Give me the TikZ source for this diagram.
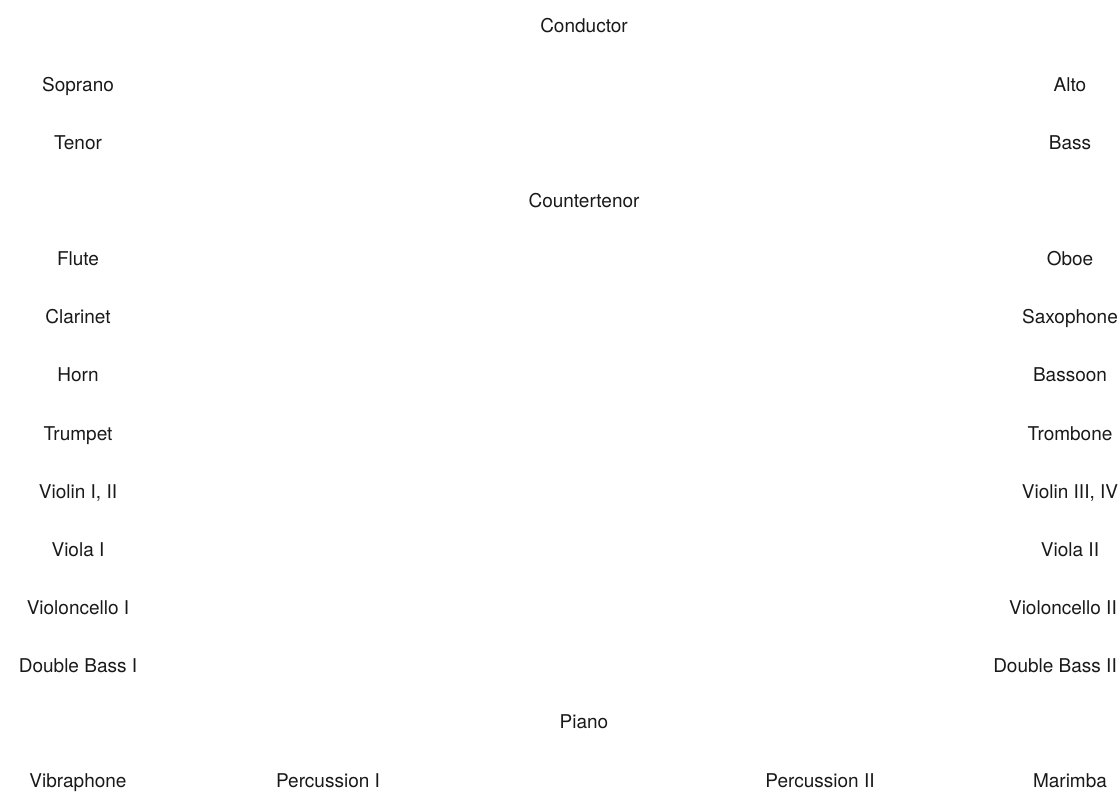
\documentclass[tikz,border=0pt]{standalone}
\usepackage{fontspec}
\setmainfont{TeX Gyre Heros}
\begin{document}
\begin{tikzpicture}[x=1pt,y=-1pt,
  lbl/.style={inner sep=0pt, text=black!90, font=\fontsize{19}{22}\selectfont, anchor=base},
  rlbl/.style={lbl, anchor=base east}]
\useasboundingbox (0,0) rectangle (1120,802);
\def\L{78}\def\R{1070}\def\C{584}\def\E{1117}
\node[lbl] (conductor) at (\C,33) {Conductor};
\node[lbl] (soprano) at (\L,92) {Soprano};
\node[lbl] (alto) at (\R,92) {Alto};
\node[lbl] (tenor) at (\L,150) {Tenor};
\node[lbl] (bass) at (\R,150) {Bass};
\node[lbl] (countertenor) at (\C,208) {Countertenor};
\node[lbl] (flute) at (\L,266) {Flute};
\node[lbl] (oboe) at (\R,266) {Oboe};
\node[lbl] (clarinet) at (\L,324) {Clarinet};
\node[lbl] (saxophone) at (\R,324) {Saxophone};
\node[lbl] (horn) at (\L,382) {Horn};
\node[lbl] (bassoon) at (\R,382) {Bassoon};
\node[lbl] (trumpet) at (\L,440) {Trumpet};
\node[lbl] (trombone) at (\R,440) {Trombone};
\node[lbl] (violin12) at (\L,498) {Violin I, II};
\node[lbl] (violin34) at (\R,498) {Violin III, IV};
\node[lbl] (viola1) at (\L,556) {Viola I};
\node[lbl] (viola2) at (\R,556) {Viola II};
\node[lbl] (cello1) at (\L,614) {Violoncello I};
\node[rlbl] (cello2) at (\E,614) {Violoncello II};
\node[lbl] (db1) at (\L,672) {Double Bass I};
\node[rlbl] (db2) at (\E,672) {Double Bass II};
\node[lbl] (piano) at (\C,728) {Piano};
\node[lbl] (vibraphone) at (\L,787) {Vibraphone};
\node[lbl] (perc1) at (328,787) {Percussion I};
\node[lbl] (perc2) at (820,787) {Percussion II};
\node[lbl] (marimba) at (\R,787) {Marimba};
\end{tikzpicture}
\end{document}
